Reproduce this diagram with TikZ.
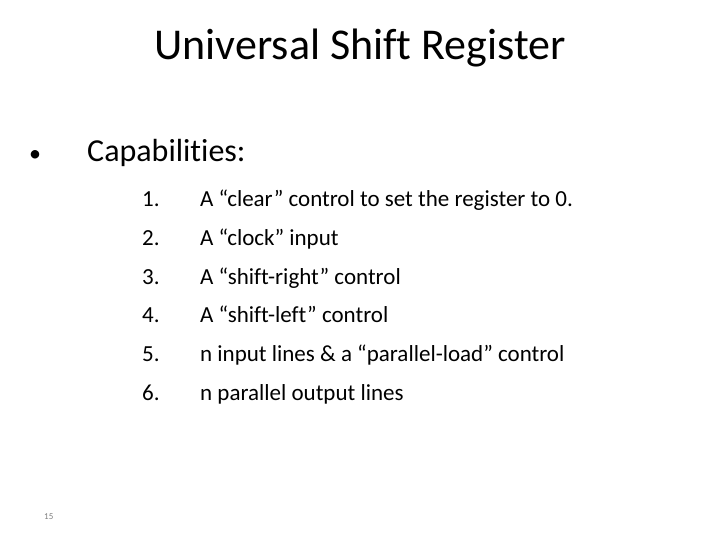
\documentclass[tikz,border=0pt]{standalone}
\usepackage{fontspec}
\setmainfont[Ligatures=NoCommon]{Carlito}
\begin{document}
\begin{tikzpicture}[x=1pt,y=-1pt,
  item/.style={anchor=base west,inner sep=0pt,font=\fontsize{23}{27}\selectfont},
  num/.style={anchor=base west,inner sep=0pt,font=\fontsize{23}{27}\selectfont}]
\useasboundingbox[fill=white] (0,0) rectangle (720,540);
\node[anchor=base,inner sep=0pt,font=\fontsize{44}{50}\selectfont] (title) at (360,60) {Universal Shift Register};
\node[item,font=\fontsize{24}{28}\selectfont] (bul) at (29,162) {•};
\node[item,font=\fontsize{32}{38}\selectfont] (cap) at (87,162) {Capabilities:};
\foreach \i/\t [count=\k] in {1/{A “clear” control to set the register to 0.},2/{A “clock” input},3/{A “shift-right” control},4/{A “shift-left” control},5/{n input lines \& a “parallel-load” control},6/{n parallel output lines}}{
  \node[num] (n\k) at (142,{207+(\k-1)*38.6}) {\i.};
  \node[item] (t\k) at (200,{207+(\k-1)*38.6}) {\t};
}
\node[anchor=base west,inner sep=0pt,font=\fontsize{9}{10}\selectfont,text=gray] (pg) at (44,519) {15};
\end{tikzpicture}
\end{document}
